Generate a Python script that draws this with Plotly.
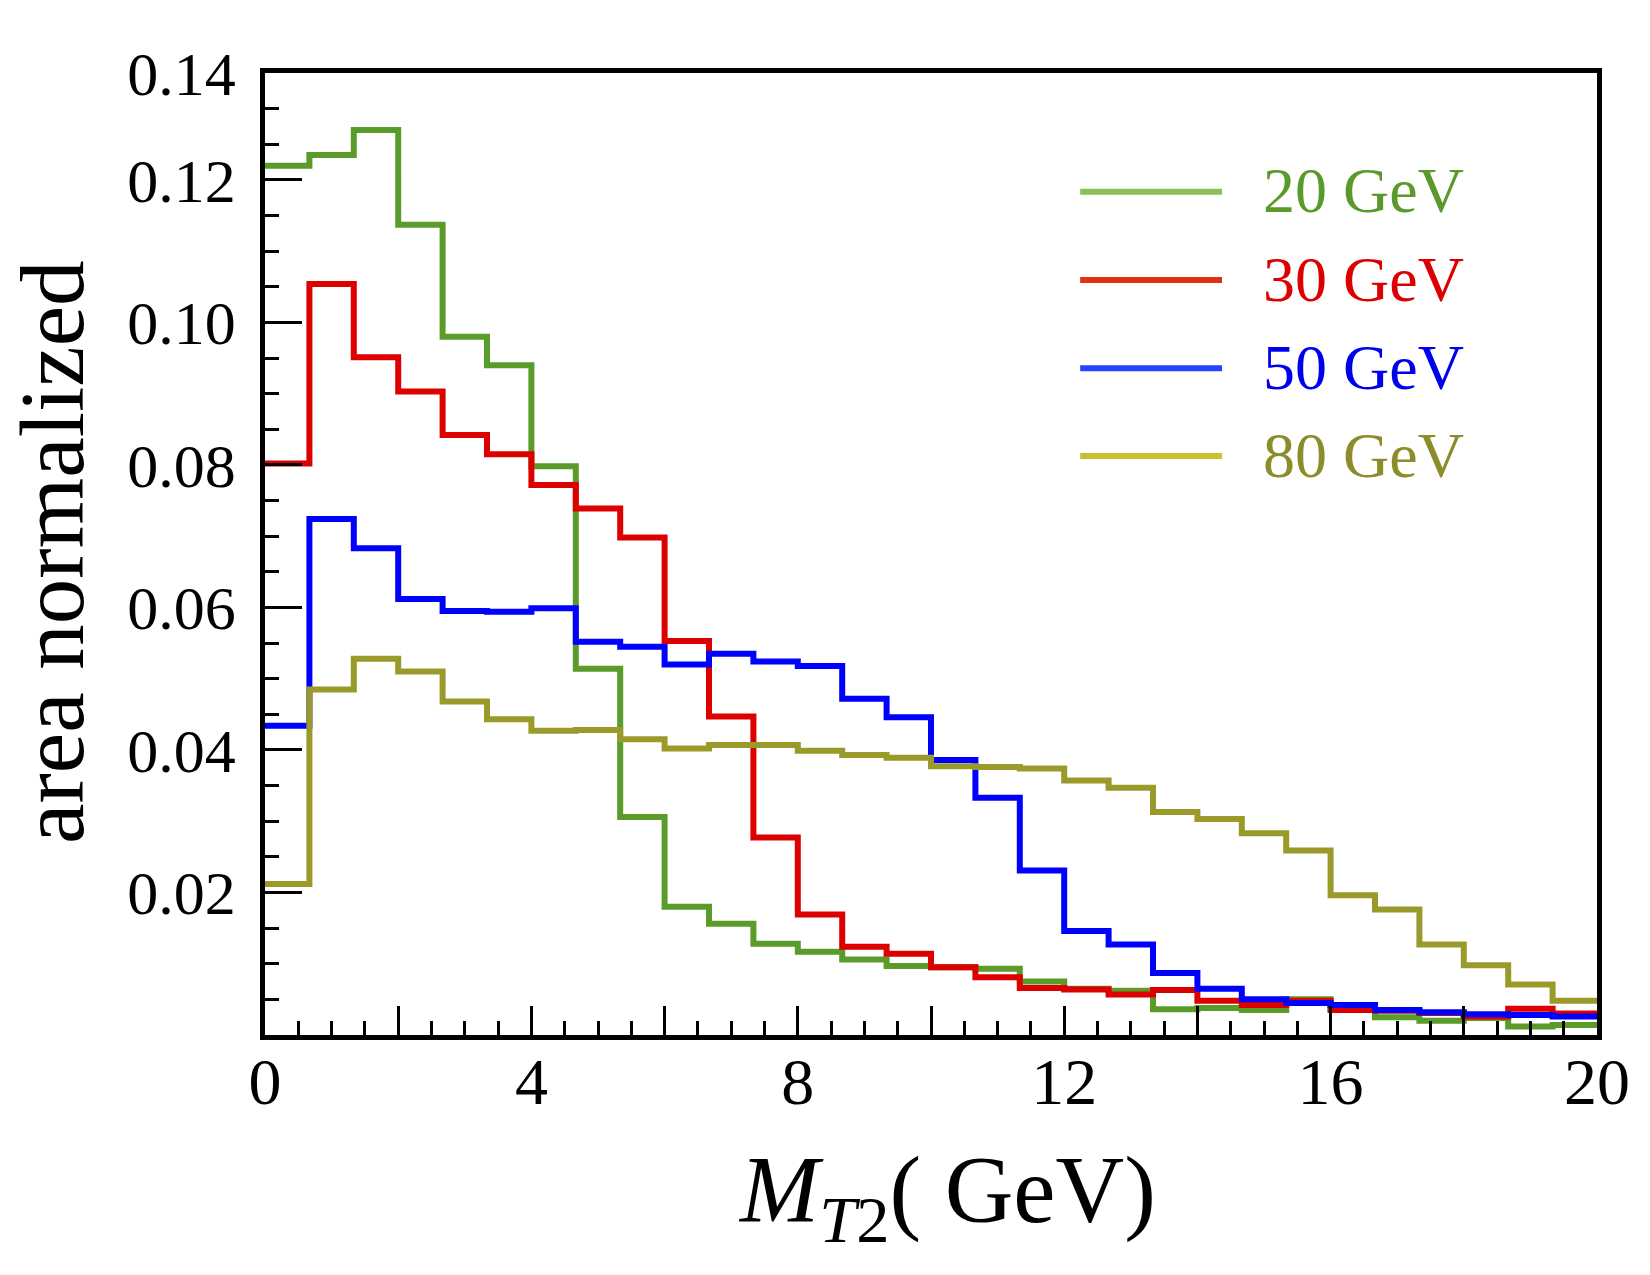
import plotly.graph_objects as go

# ---- data (30 bins, 0-20 GeV, bin width 2/3) ----
n_bins = 30
x_min, x_max = 0.0, 20.0
edges = [x_min + i * (x_max - x_min) / n_bins for i in range(n_bins + 1)]

series_names = ["20 GeV", "30 GeV", "50 GeV", "80 GeV"]

v20 = [0.1220, 0.1235, 0.1270, 0.1137, 0.0980, 0.0940, 0.0798, 0.0514, 0.0306, 0.0180,
       0.0156, 0.0128, 0.0117, 0.0106, 0.0097, 0.0095, 0.0093, 0.0075, 0.0065, 0.0062,
       0.0036, 0.0038, 0.0035, 0.0050, 0.0037, 0.0025, 0.0020, 0.0024, 0.0012, 0.0014]
v30 = [0.0802, 0.1054, 0.0951, 0.0903, 0.0842, 0.0815, 0.0772, 0.0739, 0.0698, 0.0553,
       0.0447, 0.0277, 0.0169, 0.0124, 0.0114, 0.0095, 0.0081, 0.0066, 0.0064, 0.0057,
       0.0063, 0.0048, 0.0042, 0.0048, 0.0035, 0.0034, 0.0031, 0.0026, 0.0037, 0.0030]
v50 = [0.0434, 0.0724, 0.0683, 0.0612, 0.0595, 0.0594, 0.0599, 0.0552, 0.0545, 0.0520,
       0.0535, 0.0524, 0.0518, 0.0472, 0.0446, 0.0386, 0.0333, 0.0231, 0.0146, 0.0127,
       0.0087, 0.0065, 0.0050, 0.0045, 0.0042, 0.0035, 0.0032, 0.0029, 0.0028, 0.0026]
v80 = [0.0212, 0.0485, 0.0528, 0.0510, 0.0468, 0.0443, 0.0427, 0.0428, 0.0415, 0.0402,
       0.0407, 0.0407, 0.0399, 0.0393, 0.0389, 0.0377, 0.0376, 0.0374, 0.0357, 0.0347,
       0.0313, 0.0303, 0.0283, 0.0259, 0.0196, 0.0176, 0.0127, 0.0098, 0.0071, 0.0048]

line_colors = ["#5b9b2a", "#dd0000", "#0000ff", "#9a9a2a"]
legend_line_colors = ["#8bc057", "#dd3311", "#2244ff", "#c8c030"]
legend_text_colors = ["#5a9a2a", "#dd0000", "#0000ee", "#8c8c2a"]

y_tickvals = [0.02, 0.04, 0.06, 0.08, 0.10, 0.12, 0.135]
y_ticktext = ["0.02", "0.04", "0.06", "0.08", "0.10", "0.12", "0.14"]
x_tickvals = [0, 2, 4, 6, 8, 10, 12, 14, 16, 18, 20]
x_ticktext = ["0", "", "4", "", "8", "", "12", "", "16", "", "20"]

FONT = "Liberation Serif"

fig = go.Figure()
for name, vals, col in zip(series_names, [v20, v30, v50, v80], line_colors):
    fig.add_trace(go.Scatter(
        x=edges, y=vals + [vals[-1]], mode="lines", name=name,
        line=dict(color=col, width=6, shape="hv"), showlegend=False))

# manual legend (long line samples + coloured text)
leg_y = [0.8766, 0.7848, 0.6930, 0.6019]
for i, name in enumerate(series_names):
    fig.add_shape(type="line", xref="paper", yref="paper",
                  x0=0.612, x1=0.7185, y0=leg_y[i], y1=leg_y[i],
                  line=dict(color=legend_line_colors[i], width=6))
    fig.add_annotation(xref="paper", yref="paper", x=0.748, y=leg_y[i] + 0.001,
                       xanchor="left", yanchor="middle", showarrow=False,
                       text=name, font=dict(family=FONT, size=64, color=legend_text_colors[i]))

# axis titles
fig.add_annotation(xref="paper", yref="paper", x=0.512, y=-0.168,
                   xanchor="center", yanchor="middle", showarrow=False,
                   text="<i>M</i><sub><i>T</i>2</sub>( GeV)",
                   font=dict(family=FONT, size=95, color="black"))
fig.add_annotation(xref="paper", yref="paper", x=-0.160, y=0.502,
                   xanchor="center", yanchor="middle", showarrow=False, textangle=-90,
                   text="area normalized",
                   font=dict(family=FONT, size=91, color="black"))

fig.update_layout(
    width=1650, height=1275,
    margin=dict(l=265, r=53, t=73, b=240),
    paper_bgcolor="white", plot_bgcolor="white",
    font=dict(family=FONT, color="black"),
    xaxis=dict(range=[0, 20], showgrid=False, zeroline=False,
               showline=True, linecolor="black", linewidth=5, mirror=True,
               tickmode="array", tickvals=x_tickvals, ticktext=x_ticktext,
               ticks="inside", ticklen=29, tickwidth=2.5, tickcolor="black",
               tickfont=dict(family=FONT, size=66, color="black"),
               ticklabelstandoff=-15,
               minor=dict(ticks="inside", dtick=0.5, tick0=0, ticklen=14,
                          tickwidth=2.5, tickcolor="black", showgrid=False)),
    yaxis=dict(range=[0, 0.135], showgrid=False, zeroline=False,
               showline=True, linecolor="black", linewidth=4.5, mirror=True,
               tickmode="array", tickvals=y_tickvals, ticktext=y_ticktext,
               ticks="inside", ticklen=37, tickwidth=2.5, tickcolor="black",
               tickfont=dict(family=FONT, size=62, color="black"),
               ticklabelstandoff=12,
               minor=dict(ticks="inside", dtick=0.005, tick0=0, ticklen=14,
                          tickwidth=2.5, tickcolor="black", showgrid=False)),
)

fig.write_html("out.html")
